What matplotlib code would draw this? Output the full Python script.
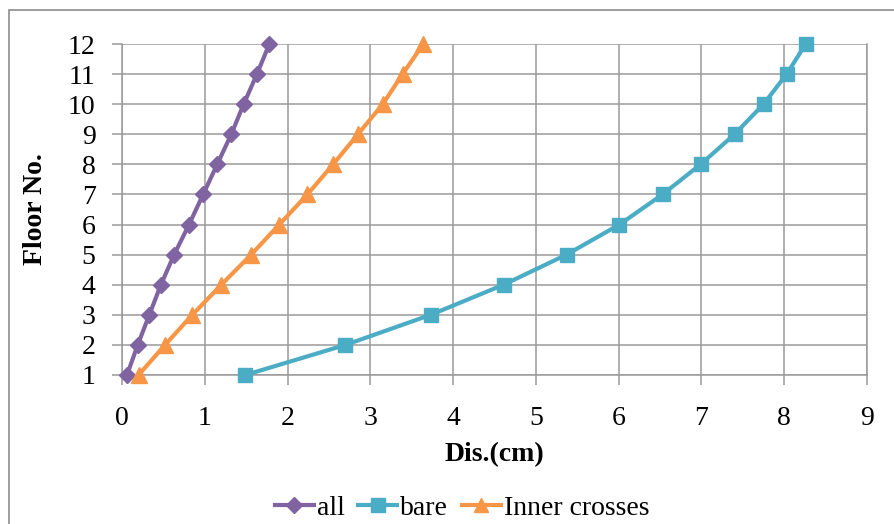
"""
Floor displacement profile for three bracing cases (all / bare / inner crosses).
Writes out.png.
"""

import matplotlib
matplotlib.use("Agg")
import matplotlib.pyplot as plt
from matplotlib.patches import Rectangle

# ---------------------------------------------------------------------------
# Data
# ---------------------------------------------------------------------------

floors = [1, 2, 3, 4, 5, 6, 7, 8, 9, 10, 11, 12]

dis_all = [0.06, 0.19, 0.33, 0.47, 0.63, 0.81, 0.98, 1.15, 1.32, 1.47, 1.63, 1.78]
dis_bare = [1.49, 2.70, 3.73, 4.61, 5.37, 6.01, 6.53, 6.99, 7.40, 7.75, 8.03, 8.26]
dis_inner = [0.20, 0.52, 0.85, 1.20, 1.56, 1.90, 2.24, 2.55, 2.85, 3.15, 3.39, 3.64]

series_labels = ["all", "bare", "Inner crosses"]
x_ticks = list(range(0, 10))
y_ticks = floors

PURPLE = "#8064A2"
TEAL = "#4BACC6"
ORANGE = "#F79646"
GRID = "#9A9A9A"

plt.rcParams["font.family"] = ["Liberation Serif", "DejaVu Serif"]

fig = plt.figure(figsize=(8.95, 5.24), dpi=100)
ax = fig.add_axes([122 / 895, 1 - 375 / 524, (867 - 122) / 895, (375 - 44) / 524])

ax.plot(dis_all, floors, color=PURPLE, lw=3, marker="D", ms=8.5,
        label=series_labels[0], zorder=3, clip_on=False)
ax.plot(dis_bare, floors, color=TEAL, lw=3, marker="s", ms=10.5,
        label=series_labels[1], zorder=3, clip_on=False)
ax.plot(dis_inner, floors, color=ORANGE, lw=3, marker="^", ms=11,
        label=series_labels[2], zorder=3, clip_on=False)

ax.set_xlim(0, 9)
ax.set_ylim(1, 12)
ax.set_xticks(x_ticks)
ax.set_yticks(y_ticks)
ax.grid(True, color=GRID, lw=1.1)
ax.set_axisbelow(True)
for s in ax.spines.values():
    s.set_color(GRID)
    s.set_linewidth(1.1)
ax.spines["top"].set_visible(False)

ax.tick_params(axis="both", labelsize=20, color=GRID, length=7, width=1.1,
               direction="out")
ax.tick_params(axis="x", pad=15)
ax.tick_params(axis="y", pad=12)

ax.set_xlabel("Dis.(cm)", fontsize=20, fontweight="bold", labelpad=8)
ax.set_ylabel("Floor No.", fontsize=20, fontweight="bold", labelpad=14)

leg = fig.legend(loc="center", bbox_to_anchor=(462 / 895, 1 - 508 / 524),
                 ncol=3, frameon=False, fontsize=20, handlelength=1.4,
                 handletextpad=0.1, columnspacing=0.5, borderaxespad=0,
                 markerscale=0.9)

# outer chart frame (left/top edges visible in the reference)
fig.patches.append(Rectangle((9 / 895, -0.1), 1.2, 1 - 10 / 524 + 0.1,
                             transform=fig.transFigure, fill=False,
                             edgecolor="#8C8C8C", lw=1.2))

fig.savefig("out.png", dpi=100)
